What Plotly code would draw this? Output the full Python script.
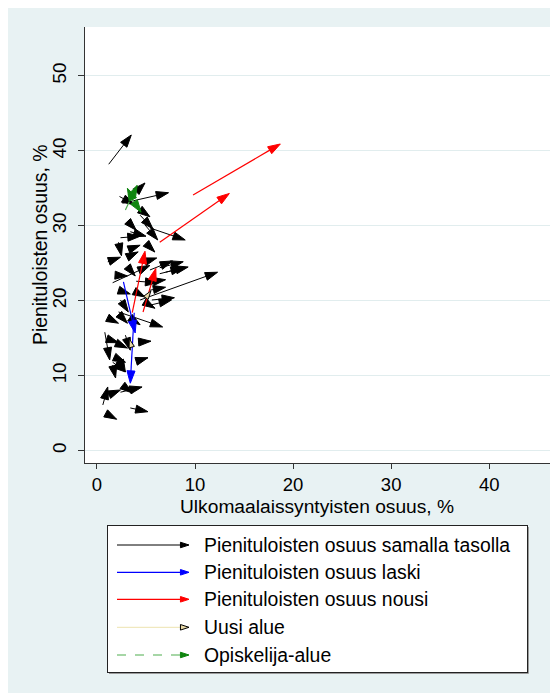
import plotly.graph_objects as go

# ---------------- data (x = Ulkomaalaissyntyisten osuus %, y = Pienituloisten osuus %) ----------
# Pienituloisten osuus samalla tasolla (black)
same_x0 = [1.2, 4.2, 2.6, 2.3, 4.0, 4.4, 3.2, 4.9, 5.4, 3.4, 2.4, 2.2, 1.1, 3.4, 5.2, 4.9, 5.4, 6.4, 7.0, 6.4,
           1.9, 3.2, 5.4, 5.4, 4.4, 2.2, 3.9, 5.6, 4.0, 5.4, 4.9, 2.4, 1.1, 2.6, 3.4, 2.2, 4.4, 1.3, 2.4, 0.8,
           1.9, 4.2, 2.9, 1.6, 2.4, 0.6, 1.1, 2.9, 2.4, 3.4, 1.0, 1.6, 3.2, 1.6]
same_y0 = [38.2, 34.8, 33.0, 33.9, 32.5, 31.4, 30.5, 30.1, 29.7, 29.2, 28.4, 27.8, 25.2, 26.0, 27.4, 25.2, 24.1, 24.4, 23.8, 23.6,
           23.4, 24.4, 22.5, 21.4, 20.1, 21.4, 21.2, 20.1, 22.6, 19.4, 19.8, 20.1, 17.7, 17.7, 17.7, 18.5, 14.5, 14.8, 14.1, 15.8,
           12.4, 12.0, 15.4, 11.4, 11.8, 6.1, 7.4, 8.4, 7.8, 5.7, 4.9, 11.8, 26.8, 22.4]
same_x1 = [3.5, 4.9, 7.3, 3.8, 5.4, 5.7, 4.0, 6.2, 9.0, 5.0, 4.4, 2.5, 2.4, 4.2, 5.9, 6.1, 7.7, 8.8, 9.3, 8.8,
           3.1, 3.9, 7.0, 7.0, 12.3, 3.4, 4.9, 7.9, 6.2, 7.6, 5.9, 3.2, 2.2, 3.1, 4.4, 6.7, 5.5, 2.2, 3.1, 1.3,
           2.9, 5.2, 3.4, 1.9, 2.9, 1.1, 2.4, 3.6, 4.6, 5.2, 2.0, 2.9, 4.4, 5.4]
same_y1 = [42.1, 35.7, 34.4, 32.8, 31.2, 29.6, 29.4, 28.1, 28.1, 28.6, 28.6, 26.0, 25.8, 26.5, 26.5, 25.7, 25.3, 25.2, 24.5, 24.4,
           23.3, 23.3, 22.8, 21.8, 23.8, 20.9, 20.5, 20.4, 22.4, 20.1, 19.0, 18.5, 17.0, 17.0, 16.8, 16.5, 14.6, 14.4, 13.7, 12.1,
           11.8, 12.4, 13.4, 9.7, 10.5, 8.5, 8.1, 7.7, 8.5, 5.2, 4.2, 10.5, 27.4, 24.7]

# Pienituloisten osuus laski (blue)
down_x0 = [2.7, 3.8]
down_y0 = [22.5, 18.4]
down_x1 = [3.9, 3.4]
down_y1 = [15.7, 9.0]

# Pienituloisten osuus nousi (red)
up_x0 = [9.8, 6.4, 3.6, 4.7]
up_y0 = [34.1, 27.8, 18.4, 18.5]
up_x1 = [18.7, 13.5, 4.9, 6.0]
up_y1 = [40.9, 34.3, 26.6, 24.3]

# Uusi alue
new_x0 = [5.0, 3.5]
new_y0 = [20.4, 14.0]
new_x1 = [5.5, 3.3]
new_y1 = [21.3, 14.9]

# Opiskelija-alue (green)
stud_x0 = [3.7, 2.9, 3.5]
stud_y0 = [33.4, 32.1, 33.7]
stud_x1 = [3.1, 4.1, 4.5]
stud_y1 = [35.0, 35.4, 31.8]

x_ticks = [0, 10, 20, 30, 40]
y_ticks = [0, 10, 20, 30, 40, 50]
x_title = "Ulkomaalaissyntyisten osuus, %"
y_title = "Pienituloisten osuus, %"
legend_labels = ["Pienituloisten osuus samalla tasolla", "Pienituloisten osuus laski",
                 "Pienituloisten osuus nousi", "Uusi alue", "Opiskelija-alue"]

# ---------------- styling ----------------
W, H = 558, 693
OFF = 8  # page body margin: the figure starts 8 px from the window corner
FONT = "Arial, Liberation Sans, sans-serif"
BG = "#E8F2F3"
GRID = "#E1EDEE"
AXC = "#333333"

styles = [
    dict(line=dict(color="#000000", width=1), mcolor="#000000", mline=dict(color="#000000", width=1), head=13),
    dict(line=dict(color="#0000FF", width=1.2), mcolor="#0000FF", mline=dict(color="#0000FF", width=1), head=13),
    dict(line=dict(color="#FF0000", width=1.2), mcolor="#FF0000", mline=dict(color="#FF0000", width=1), head=13),
    dict(line=dict(color="#EDE3B0", width=1), mcolor="#E9D9A6", mline=dict(color="#000000", width=1), head=9),
    dict(line=dict(color="#4FAE4F", width=1.2, dash="dash"), mcolor="#0F850F", mline=dict(color="#0F850F", width=1), head=13),
]
series = [
    (same_x0, same_y0, same_x1, same_y1),
    (down_x0, down_y0, down_x1, down_y1),
    (up_x0, up_y0, up_x1, up_y1),
    (new_x0, new_y0, new_x1, new_y1),
    (stud_x0, stud_y0, stud_x1, stud_y1),
]


def segments(x0, y0, x1, y1, size):
    xs, ys, ss = [], [], []
    for a, b, c, d in zip(x0, y0, x1, y1):
        xs += [a, c, None]
        ys += [b, d, None]
        ss += [0, size, 0]
    return xs, ys, ss


def fx(px):  # window pixel -> figure fraction (x)
    return (px - OFF) / W


def fy(py):  # window pixel -> figure fraction (y)
    return (H - (py - OFF)) / H


fig = go.Figure()
for (x0, y0, x1, y1), st, name in zip(series, styles, legend_labels):
    xs, ys, ss = segments(x0, y0, x1, y1, st["head"])
    fig.add_trace(go.Scatter(
        x=xs, y=ys, mode="lines+markers", name=name, showlegend=False,
        line=st["line"],
        marker=dict(symbol="arrow", angleref="previous", size=ss, opacity=1,
                    color=st["mcolor"], line=st["mline"]),
        hoverinfo="skip", connectgaps=False, xaxis="x", yaxis="y"))

# ---- legend drawn in its own small axes (window-pixel-like coordinates) ----
LX0, LX1, LY0, LY1 = 108, 527, 526, 672
rows = [545, 572.3, 599.3, 627.3, 655]
for (st, name, ry) in zip(styles, legend_labels, rows):
    fig.add_trace(go.Scatter(
        x=[117, 189], y=[ry, ry], mode="lines+markers", showlegend=False,
        line=st["line"],
        marker=dict(symbol="arrow", angleref="previous", size=[0, 9], opacity=1,
                    color=st["mcolor"], line=st["mline"]),
        hoverinfo="skip", xaxis="x2", yaxis="y2"))
    fig.add_annotation(x=202, y=ry, xref="x2", yref="y2", text=name, showarrow=False,
                       xanchor="left", yanchor="middle", font=dict(family=FONT, size=19.4, color="#000000"))

# axis titles
fig.add_annotation(x=fx(316.5), y=fy(506), xref="paper", yref="paper", text=x_title, showarrow=False,
                   xanchor="center", yanchor="middle", font=dict(family=FONT, size=19.2, color="#000000"))
fig.add_annotation(x=fx(40), y=fy(245), xref="paper", yref="paper", text=y_title, showarrow=False,
                   textangle=-90, xanchor="center", yanchor="middle",
                   font=dict(family=FONT, size=19.4, color="#000000"))

PX0, PX1, PY0, PY1 = 84.7, 551, 27, 463
fig.update_layout(
    width=W, height=H,
    margin=dict(l=0, r=0, t=0, b=0),
    paper_bgcolor=BG, plot_bgcolor="#FFFFFF",
    font=dict(family=FONT, size=19, color="#000000"),
    showlegend=False,
    xaxis=dict(domain=[fx(PX0), fx(PX1)], range=[-1.25, 46.3], tickvals=x_ticks,
               ticks="outside", ticklen=5, tickcolor=AXC, showgrid=False, zeroline=False,
               showline=True, linecolor=AXC, linewidth=1.3, anchor="y",
               tickfont=dict(size=18.5), automargin=False),
    yaxis=dict(domain=[fy(PY1), fy(PY0)], range=[-1.64, 56.5], tickvals=y_ticks,
               ticks="outside", ticklen=6, tickcolor=AXC, tickangle=-90, ticklabelstandoff=4,
               showgrid=True, gridcolor=GRID, gridwidth=1, zeroline=False,
               showline=True, linecolor=AXC, linewidth=1.3, anchor="x",
               tickfont=dict(size=18.8), automargin=False),
    xaxis2=dict(domain=[fx(LX0), fx(LX1)], range=[LX0, LX1], visible=True, showticklabels=False,
                ticks="", showgrid=False, zeroline=False, showline=True, mirror=True,
                linecolor="#222222", linewidth=1.2, anchor="y2", fixedrange=True),
    yaxis2=dict(domain=[fy(LY1), fy(LY0)], range=[LY1, LY0], visible=True, showticklabels=False,
                ticks="", showgrid=False, zeroline=False, showline=True, mirror=True,
                linecolor="#222222", linewidth=1.2, anchor="x2", fixedrange=True),
    shapes=[
        # legend shadow
        dict(type="line", xref="paper", yref="paper", x0=fx(LX1 + 1.5), x1=fx(LX1 + 1.5),
             y0=fy(LY1 + 1.5), y1=fy(LY0 + 1), line=dict(color="#9A9A9A", width=1)),
        dict(type="line", xref="paper", yref="paper", x0=fx(LX0 + 1), x1=fx(LX1 + 1.5),
             y0=fy(LY1 + 1.5), y1=fy(LY1 + 1.5), line=dict(color="#9A9A9A", width=1)),
    ],
)

fig.write_html("out.html")
